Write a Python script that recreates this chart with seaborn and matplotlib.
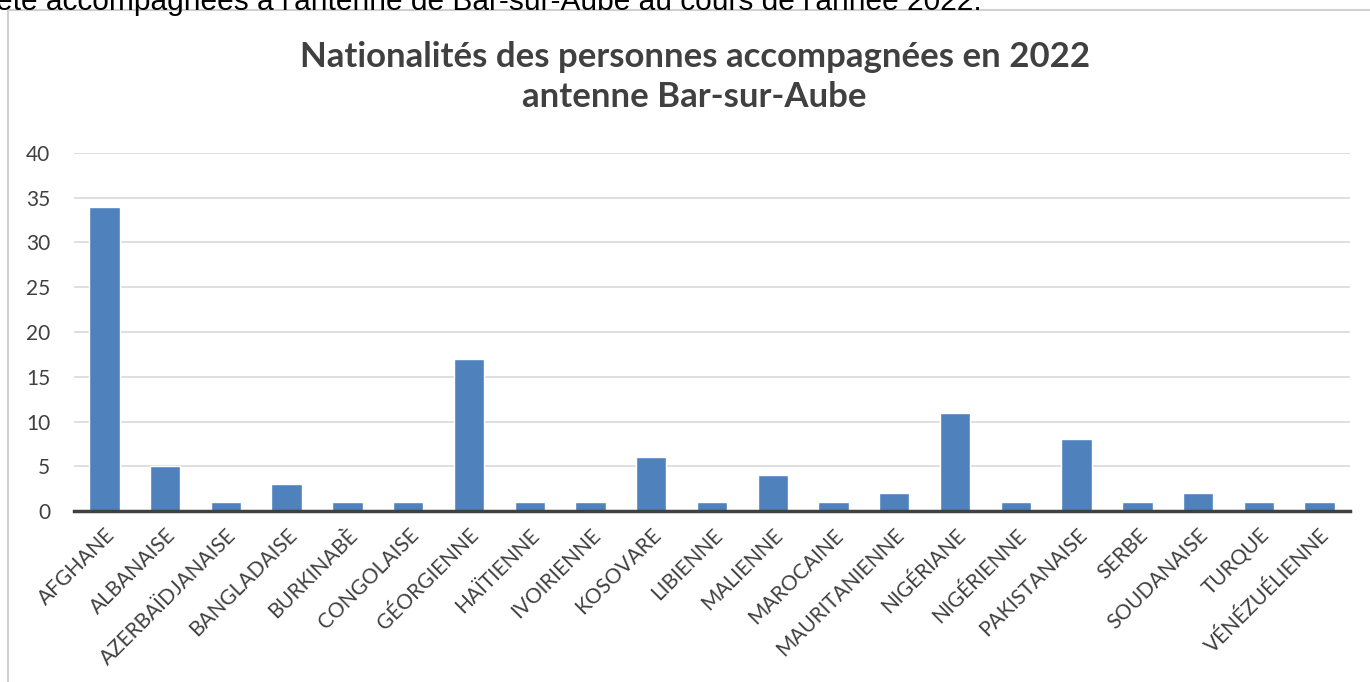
import matplotlib
matplotlib.use("Agg")
import matplotlib.pyplot as plt
import matplotlib.patches as mpatches
import seaborn as sns
import pandas as pd
import numpy as np

# data
nationalites = ["AFGHANE", "ALBANAISE", "AZERBAÏDJANAISE", "BANGLADAISE", "BURKINABÈ",
                "CONGOLAISE", "GÉORGIENNE", "HAÏTIENNE", "IVOIRIENNE", "KOSOVARE",
                "LIBIENNE", "MALIENNE", "MAROCAINE", "MAURITANIENNE", "NIGÉRIANE",
                "NIGÉRIENNE", "PAKISTANAISE", "SERBE", "SOUDANAISE", "TURQUE",
                "VÉNÉZUÉLIENNE"]
personnes = [34, 5, 1, 3, 1, 1, 17, 1, 1, 6, 1, 4, 1, 2, 11, 1, 8, 1, 2, 1, 1]
y_ticks = [0, 5, 10, 15, 20, 25, 30, 35, 40]

titre = "Nationalités des personnes accompagnées en 2022\nantenne Bar-sur-Aube"
phrase = "été accompagnées à l'antenne de Bar-sur-Aube au cours de l'année 2022."

df = pd.DataFrame({"nationalite": nationalites, "n": personnes})

sns.set_theme(style="white")
plt.rcParams["font.family"] = ["Lato", "DejaVu Sans"]

fig = plt.figure(figsize=(13.7, 6.82), dpi=100)
ax = fig.add_axes([0.054, 0.2507, 0.9314, 0.525])

# chart frame and the sentence of the page above it (clipped, as in the source)
fig.patches.append(mpatches.Rectangle((8 / 1370, -0.05), 1.0, 1 - 10 / 682 + 0.05,
                                      transform=fig.transFigure, fill=False,
                                      edgecolor="#d0d0d0", linewidth=1.5))
fig.text(-0.003, 0.997, phrase, ha="left", va="center", fontsize=21.5,
         family=["Liberation Sans", "DejaVu Sans"], color="#000000")

sns.barplot(data=df, x="nationalite", y="n", color="#4f81bd", saturation=1,
            width=0.5, ax=ax, zorder=3)

ax.set_ylim(0, 40)
ax.set_xlim(-0.5, len(nationalites) - 0.5)
ax.set_yticks(y_ticks)
ax.yaxis.grid(True, color="#d9d9d9", linewidth=1.2, zorder=0)
ax.set_axisbelow(True)

for s in ["top", "right", "left"]:
    ax.spines[s].set_visible(False)
ax.spines["bottom"].set_color("#404040")
ax.spines["bottom"].set_linewidth(2.5)
ax.spines["bottom"].set_zorder(4)

ax.set_xticks(range(len(nationalites)))
ax.set_xticklabels(nationalites, rotation=45, ha="right", rotation_mode="anchor",
                   fontsize=15, color="#404040")
ax.tick_params(axis="x", which="major", length=0, pad=10)
ax.set_xticks(np.arange(-0.5, len(nationalites)), minor=True)
ax.tick_params(axis="x", which="minor", length=7, width=2.5, color="#404040",
               direction="out")
ax.tick_params(axis="y", length=0, labelsize=15, labelcolor="#404040", pad=17)

ax.set_xlabel("")
ax.set_ylabel("")

fig.text(0.507, 0.887, titre, ha="center", va="center", fontsize=25,
         fontweight="bold", color="#404040", linespacing=1.3)

fig.savefig("out.png", dpi=100)
